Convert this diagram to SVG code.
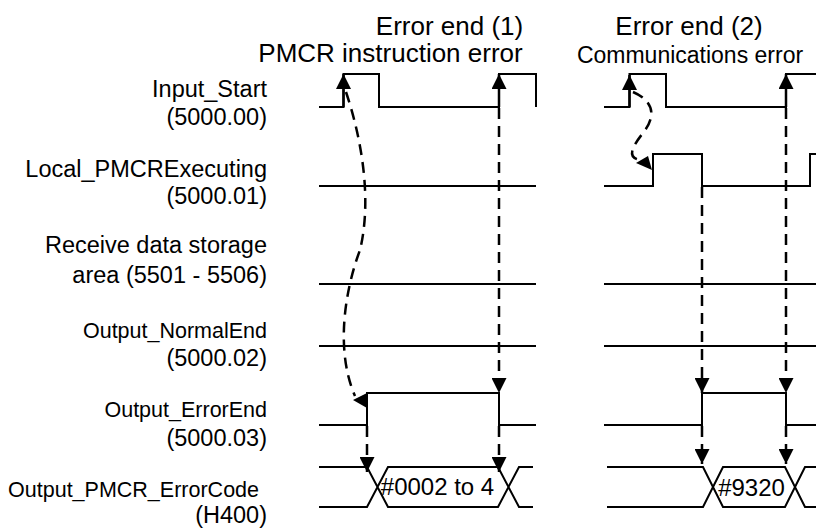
<svg xmlns="http://www.w3.org/2000/svg" width="816" height="528" viewBox="0 0 816 528">
<style>
  text { font-family: "Liberation Sans", Arial, sans-serif; fill: #000; }
  .lbl { font-size: 23.5px; text-anchor: end; }
  .lblg { font-size: 21.5px; text-anchor: end; }
  .title { font-size: 26px; text-anchor: middle; }
  .sub { font-size: 23px; text-anchor: middle; }
  .val { font-size: 24px; text-anchor: middle; }
  .wave { fill: none; stroke: #000; stroke-width: 2; stroke-linejoin: miter; }
  .dash { fill: none; stroke: #000; stroke-width: 2.5; stroke-dasharray: 11 7; }
  .solid { fill: none; stroke: #000; stroke-width: 2.5; }
  .ah { fill: #000; stroke: none; }
</style>
<defs>
  <marker id="arrow" viewBox="0 0 15 15" refX="15" refY="7.5" markerWidth="15" markerHeight="15" markerUnits="userSpaceOnUse" orient="auto">
    <path d="M0,0 L15,7.5 L0,15 Z" fill="#000"/>
  </marker>
</defs>
<rect width="816" height="528" fill="#fff"/>

<g id="titles">
  <text class="title" x="449.5" y="35">Error end (1)</text>
  <text class="title" x="390.5" y="62">PMCR instruction error</text>
  <text class="title" x="689" y="35">Error end (2)</text>
  <text class="sub" x="690" y="63">Communications error</text>
</g>

<g id="input-start">
  <text class="lbl" x="267" y="97">Input_Start</text>
  <text class="lbl" x="267" y="125">(5000.00)</text>
  <path class="wave" d="M319,107 H343.5 V74 H379 V107 H499 V74 H536 V107"/>
  <path class="wave" d="M604,107 H629.5 V74 H666 V107 H786 V74 H816"/>
</g>

<g id="local-pmcr-executing">
  <text class="lbl" x="267" y="177">Local_PMCRExecuting</text>
  <text class="lbl" x="267" y="204">(5000.01)</text>
  <path class="wave" d="M319,186 H536"/>
  <path class="wave" d="M604,186 H653 V154 H702 V186 H810 V154 H816"/>
</g>

<g id="receive-data">
  <text class="lbl" x="267" y="253">Receive data storage</text>
  <text class="lbl" x="267" y="283">area (5501 - 5506)</text>
  <path class="wave" d="M319,284 H536"/>
  <path class="wave" d="M604,284 H816"/>
</g>

<g id="output-normal-end">
  <text class="lblg" x="267" y="338">Output_NormalEnd</text>
  <text class="lbl" x="267" y="366">(5000.02)</text>
  <path class="wave" d="M319,346 H536"/>
  <path class="wave" d="M604,346 H816"/>
</g>

<g id="output-error-end">
  <text class="lblg" x="267" y="417">Output_ErrorEnd</text>
  <text class="lbl" x="267" y="446">(5000.03)</text>
  <path class="wave" d="M319,425 H367 V393 H499 V425 H536"/>
  <path class="wave" d="M604,425 H702 V393 H786 V425 H816"/>
</g>

<g id="output-pmcr-errorcode">
  <text class="lblg" x="259" y="497">Output_PMCR_ErrorCode</text>
  <text class="lbl" x="267" y="523">(H400)</text>
  <path class="wave" d="M319,467 H367 L388,507 H498 L519,467 H533 M319,507 H367 L388,467 H498 L519,507 H533"/>
  <text class="val" x="437.5" y="495">#0002 to 4</text>
  <path class="wave" d="M607,467 H703 L723,507 H785 L805,467 H816 M607,507 H703 L723,467 H785 L805,507 H816"/>
  <text class="val" x="751.5" y="496">#9320</text>
</g>

<g id="connectors">
  <!-- error end (1) -->
  <path class="solid" d="M343.5,107 V74" marker-end="url(#arrow)"/>
  <path class="dash" d="M346,92 C 362,140 372,200 360,250 C 345,290 335,350 355,396"/>
  <polygon class="ah" points="353,400 367,393 367,408"/>
  <path class="dash" d="M367,426 V472" marker-end="url(#arrow)"/>
  <path class="solid" d="M499,107 V74" marker-end="url(#arrow)"/>
  <path class="dash" d="M499,108 V393" marker-end="url(#arrow)"/>
  <path class="dash" d="M499,426 V472" marker-end="url(#arrow)"/>
  <!-- error end (2) -->
  <path class="solid" d="M629.5,107 V75" marker-end="url(#arrow)"/>
  <path class="dash" d="M633,92 C 656,102 655,118 643,133 C 632,147 626,158 641,160"/>
  <polygon class="ah" points="636,163 648,156 652,170"/>
  <path class="dash" d="M702,187 V393" marker-end="url(#arrow)"/>
  <path class="dash" d="M702,426 V464" marker-end="url(#arrow)"/>
  <path class="solid" d="M786,107 V74" marker-end="url(#arrow)"/>
  <path class="dash" d="M786,108 V393" marker-end="url(#arrow)"/>
  <path class="dash" d="M786,426 V464" marker-end="url(#arrow)"/>
</g>
</svg>
